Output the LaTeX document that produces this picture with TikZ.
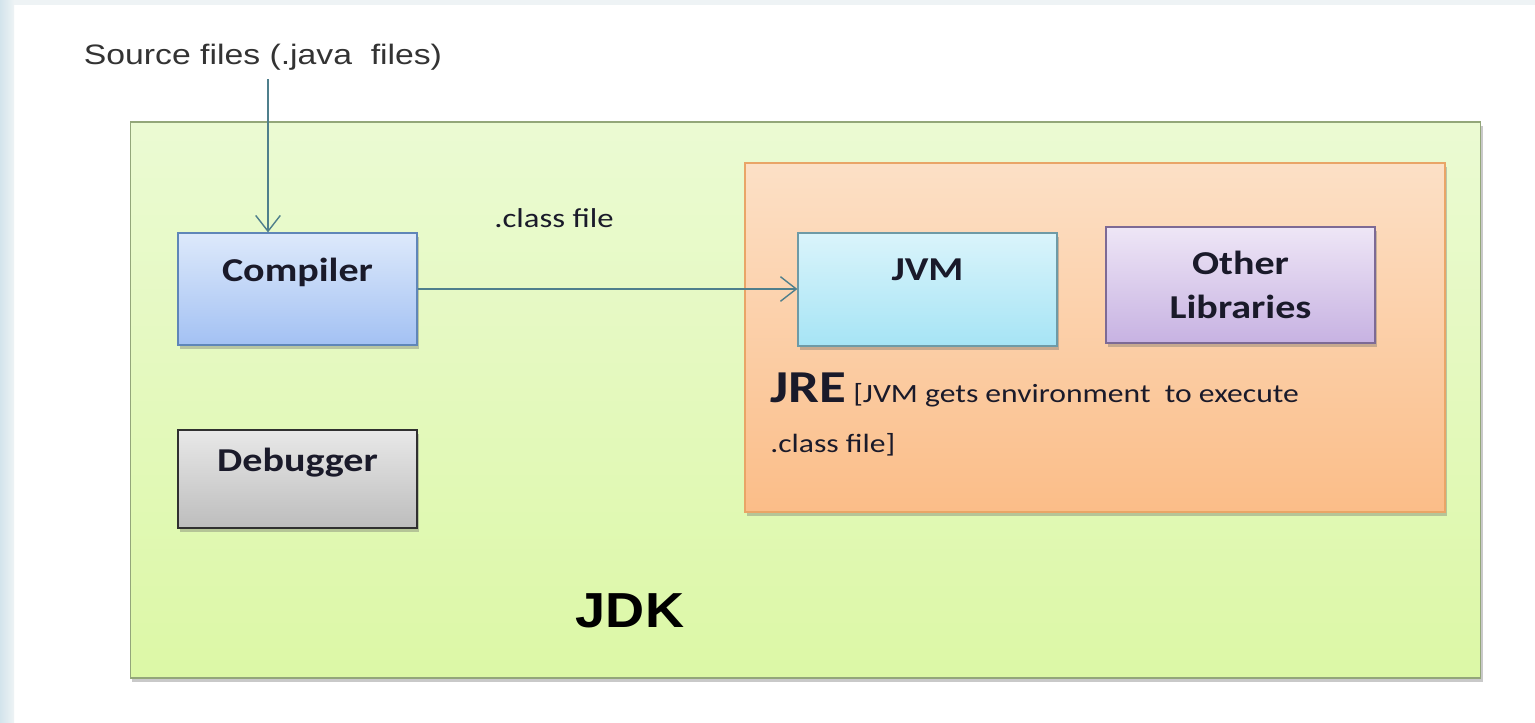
\documentclass[tikz,border=0pt]{standalone}
\usepackage{fontspec}
\setmainfont{Carlito}
\newfontfamily\arialf{Liberation Sans}
\usetikzlibrary{shadows,arrows.meta}
\newcommand\widetxt[1]{\scalebox{1.2}[1]{#1}}
\definecolor{bgstrip}{HTML}{D3E4EC}
\definecolor{bgtop}{HTML}{EEF3F5}
\definecolor{jdktop}{HTML}{EBFAD3}
\definecolor{jdkbot}{HTML}{DCF8A6}
\definecolor{jdkline}{HTML}{93A67A}
\definecolor{jretop}{HTML}{FCE0C6}
\definecolor{jrebot}{HTML}{FBBD88}
\definecolor{jreline}{HTML}{E9A567}
\definecolor{comptop}{HTML}{DDE9FB}
\definecolor{compbot}{HTML}{A3C1F3}
\definecolor{compline}{HTML}{5F86B8}
\definecolor{jvmtop}{HTML}{DAF4FB}
\definecolor{jvmbot}{HTML}{A6E4F5}
\definecolor{jvmline}{HTML}{6E9AA6}
\definecolor{othtop}{HTML}{EEE6F6}
\definecolor{othbot}{HTML}{C7B2E2}
\definecolor{othline}{HTML}{7D6A95}
\definecolor{dbgtop}{HTML}{E8E8E8}
\definecolor{dbgbot}{HTML}{BDBDBD}
\definecolor{dbgline}{HTML}{303030}
\definecolor{arrowc}{HTML}{4F7F8C}
\definecolor{txt}{HTML}{1A1A2A}
\begin{document}
\begin{tikzpicture}[x=0.02cm,y=-0.02cm,
  panel/.style={draw, line width=0.7pt, shading=axis, inner sep=0pt,
     drop shadow={shadow xshift=1pt, shadow yshift=-2.5pt, opacity=0.35, fill=black!60}},
  boxlbl/.style={font=\fontsize{19}{22}\selectfont\bfseries, text=txt, align=center},
  conn/.style={draw=arrowc, line width=0.8pt, -{Straight Barb[length=9pt,width=14pt,line width=0.8pt]}}
]
\path[use as bounding box] (0,0) rectangle (1535,723);
\fill[white] (0,0) rectangle (1535,723);
\fill[bgtop] (0,0) rectangle (1535,5);
\shade[left color=bgstrip, right color=bgtop] (0,0) rectangle (14,723);

% JDK
\node[panel, top color=jdktop, bottom color=jdkbot, draw=jdkline,
      minimum width=27.02cm, minimum height=11.12cm] (jdk) at (805.5,400) {};
% JRE
\node[panel, top color=jretop, bottom color=jrebot, draw=jreline,
      minimum width=14cm, minimum height=6.98cm] (jre) at (1095,337.5) {};

% Inner boxes
\node[panel, boxlbl, top color=comptop, bottom color=compbot, draw=compline,
      minimum width=4.78cm, minimum height=2.24cm, text height=12pt, text depth=20.4pt]
      (comp) at (297.5,289) {\widetxt{Compiler}};
\node[panel, boxlbl, top color=dbgtop, bottom color=dbgbot, draw=dbgline,
      minimum width=4.78cm, minimum height=1.96cm, text height=12pt, text depth=20.4pt]
      (dbg) at (297.5,479) {\widetxt{Debugger}};
\node[panel, boxlbl, top color=jvmtop, bottom color=jvmbot, draw=jvmline,
      minimum width=5.18cm, minimum height=2.26cm, text height=12pt, text depth=22.6pt]
      (jvm) at (927.5,289.5) {\widetxt{JVM}};
\node[panel, boxlbl, top color=othtop, bottom color=othbot, draw=othline,
      minimum width=5.38cm, minimum height=2.32cm, font=\fontsize{19}{25.5}\selectfont\bfseries]
      (oth) at (1240.5,285) {\widetxt{Other}\\\widetxt{Libraries}};

% Texts
\node[font=\arialf\fontsize{16}{18}\selectfont, text=black!80, inner sep=2pt] (src) at (263,57)
     {\widetxt{Source files (.java\ \ files)}};
\node[font=\fontsize{15.5}{18}\selectfont, text=txt, inner sep=0pt] (cls) at (554,218)
     {\widetxt{.class file}};
\node[font=\arialf\fontsize{28}{30}\selectfont\bfseries, text=black, inner sep=0pt] (jdklbl) at (630,611)
     {\scalebox{1.1}[1]{JDK}};
\node[anchor=north west, inner sep=0pt, text=txt, align=left,
      font=\fontsize{15}{28}\selectfont] (jrelbl) at (770,373)
     {\widetxt{{\fontsize{26}{28}\selectfont\bfseries JRE} [JVM gets environment\ \ to execute}\\
      \widetxt{.class file]}};

% Connectors
\coordinate (srcout) at ([xshift=0.1cm, yshift=-3pt]src.south);
\draw[conn] (srcout) -- (srcout |- comp.north);
\draw[conn] (comp.east) -- (jvm.west |- comp.east);
\end{tikzpicture}
\end{document}
